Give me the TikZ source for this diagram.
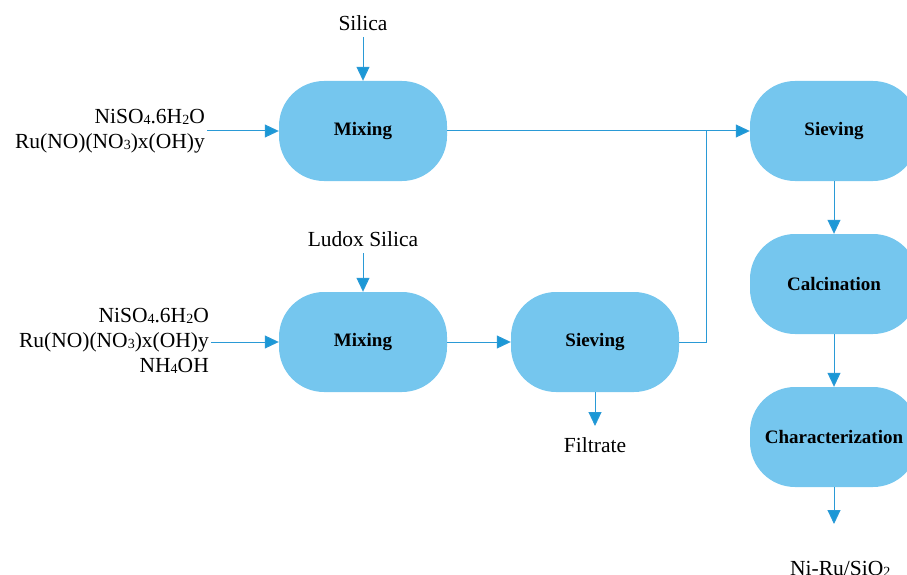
\documentclass[tikz,border=0pt]{standalone}
\usepackage{fontspec}
\setmainfont{Liberation Serif}
\usetikzlibrary{arrows.meta}
\definecolor{boxfill}{HTML}{75C6EE}
\definecolor{linec}{HTML}{2A9AD6}
\definecolor{tipc}{HTML}{1B98D6}
\newcommand{\lo}[1]{\raisebox{-1.2pt}{\fontsize{14}{14}\selectfont #1}}
\tikzset{
  proc/.style={fill=boxfill, draw=none, rounded corners=45pt, minimum width=168pt, minimum height=100pt, inner sep=0pt, font=\fontsize{19}{22}\selectfont\bfseries},
  lbl/.style={inner sep=2pt, font=\fontsize{21.5}{25}\selectfont},
  conn/.style={draw=linec, line width=1pt},
  arr/.style={conn, -{Triangle[length=14pt,width=13pt,fill=tipc]}}
}
\begin{document}
\begin{tikzpicture}[x=1pt,y=-1pt]
\useasboundingbox (0,0) rectangle (907,575);
\clip (0,0) rectangle (907,575);
% process boxes
\node[proc] (mix1) at (363,131) {Mixing};
\node[proc] (mix2) at (363,342) {Mixing};
\node[proc] (sieve2) at (595,342) {Sieving};
\node[proc] (sieve1) at (834,131) {Sieving};
\node[proc] (calc) at (834,284) {Calcination};
\node[proc] (char) at (834,437) {Characterization};
% labels
\node[lbl, anchor=south] (silica) at (363,33) {Silica};
\node[lbl, anchor=south] (ludox) at (363,249) {Ludox Silica};
\node[lbl, anchor=east, align=right] (in1) at (207,131) {NiSO\lo{4}.6H\lo{2}O\\Ru(NO)(NO\lo{3})x(OH)y};
\node[lbl, anchor=east, align=right] (in2) at (211,341) {NiSO\lo{4}.6H\lo{2}O\\Ru(NO)(NO\lo{3})x(OH)y\\NH\lo{4}OH};
\node[lbl, anchor=north] (filt) at (595,435) {Filtrate};
\node[lbl, anchor=north west, inner sep=0pt] (prod) at (790,561) {Ni-Ru/SiO\lo{2}};
\coordinate (j) at (706,131);
\coordinate (filtend) at (595,426);
\coordinate (prodend) at (834,524);
% connectors
\draw[arr] (silica.south) ++(0,4) -- (mix1.north);
\draw[arr] (ludox.south) ++(0,4) -- (mix2.north);
\draw[arr] (in1.east) -- (mix1.west);
\draw[arr] (mix2.west -| in2.east) -- (mix2.west);
\draw[arr] (mix1.east) -- (sieve1.west);
\draw[arr] (mix2.east) -- (sieve2.west);
\draw[conn] (sieve2.east) -| (j);
\draw[arr] (sieve2.south) -- (filtend);
\draw[arr] (sieve1.south) -- (calc.north);
\draw[arr] (calc.south) -- (char.north);
\draw[arr] (char.south) -- (prodend);
\end{tikzpicture}
\end{document}
